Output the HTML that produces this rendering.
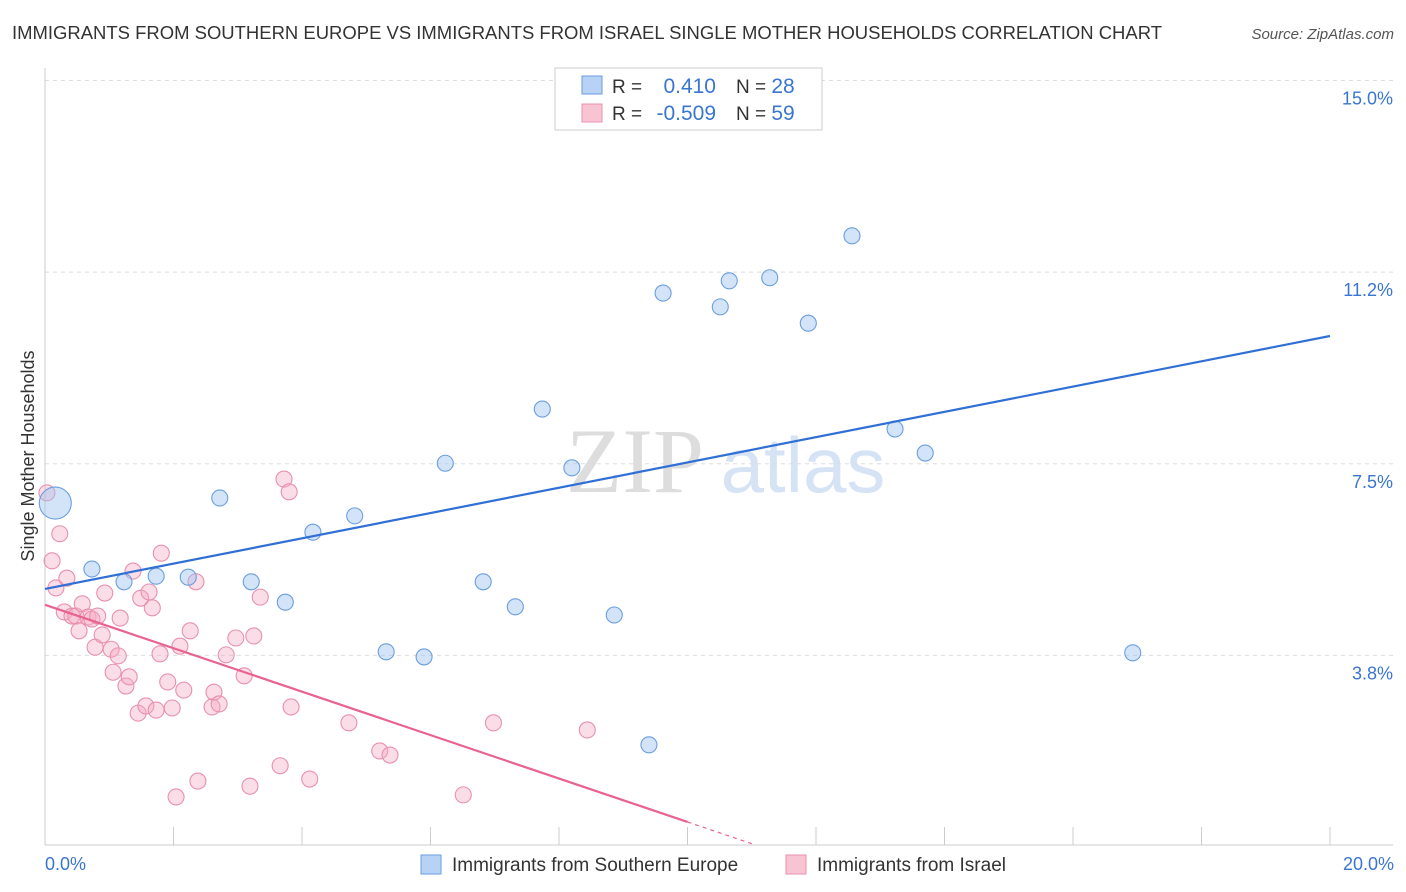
<!DOCTYPE html>
<html><head><meta charset="utf-8">
<style>
body{margin:0;background:#fff;font-family:"Liberation Sans",sans-serif;}
svg{display:block}
</style></head>
<body>
<svg id="chart" width="1406" height="892" xmlns="http://www.w3.org/2000/svg">
<text x="12" y="39" font-size="18" fill="#333" textLength="1150" lengthAdjust="spacingAndGlyphs">IMMIGRANTS FROM SOUTHERN EUROPE VS IMMIGRANTS FROM ISRAEL SINGLE MOTHER HOUSEHOLDS CORRELATION CHART</text>
<text x="1394" y="39" font-size="15" fill="#555" text-anchor="end" font-style="italic">Source: ZipAtlas.com</text>
<text x="635" y="492" font-size="92" fill="#ddd" font-family="Liberation Serif" text-anchor="middle">ZIP</text>
<text x="803" y="492" font-size="78" fill="#d5e3f5" text-anchor="middle">atlas</text>
<g id="grid"></g>
<g id="axes"></g>
<g id="pts"></g>
<g id="lines"></g>
<text transform="translate(34,456) rotate(-90)" font-size="18" fill="#333" text-anchor="middle">Single Mother Households</text>
<text x="45" y="870" font-size="18" fill="#3a75d0">0.0%</text>
<text x="1394" y="870" font-size="18" fill="#3a75d0" text-anchor="end">20.0%</text>
<g>
<rect x="555" y="68" width="267" height="62" fill="#fff" stroke="#ccc"/>
<rect x="582" y="76" width="20" height="18" fill="#b8d2f5" stroke="#6a9ee0"/>
<rect x="582" y="104" width="20" height="18" fill="#f8c4d4" stroke="#e890ae"/>
<text x="612" y="93" font-size="19" fill="#333">R =</text>
<text x="716" y="93" font-size="21" fill="#3a75d0" text-anchor="end">0.410</text>
<text x="736" y="93" font-size="19" fill="#333">N = <tspan fill="#3a75d0" font-size="21">28</tspan></text>
<text x="612" y="120" font-size="19" fill="#333">R =</text>
<text x="716" y="120" font-size="21" fill="#3a75d0" text-anchor="end">-0.509</text>
<text x="736" y="120" font-size="19" fill="#333">N = <tspan fill="#3a75d0" font-size="21">59</tspan></text>
</g>
<g>
<rect x="421" y="855" width="20" height="19" fill="#b8d2f5" stroke="#6a9ee0"/>
<text x="452" y="871" font-size="19" fill="#333">Immigrants from Southern Europe</text>
<rect x="786" y="855" width="20" height="19" fill="#f8c4d4" stroke="#e890ae"/>
<text x="817" y="871" font-size="19" fill="#333">Immigrants from Israel</text>
</g>
</svg>
<script>
const yTicks=[3.75,7.5,11.25,15];
const yTickLabels=["3.8%","7.5%","11.2%","15.0%"];
const xTicks=[0,2,4,6,8,10,12,14,16,18,20];
const blueX=[0.16,0.73,1.23,1.73,2.23,2.72,3.21,3.74,4.17,4.82,5.31,5.90,6.23,6.82,7.32,7.74,8.20,8.86,9.40,9.62,10.51,10.65,11.28,11.88,12.56,13.23,13.70,16.93];
const blueY=[6.73,5.44,5.19,5.30,5.28,6.83,5.19,4.79,6.16,6.48,3.82,3.72,7.51,5.19,4.70,8.57,7.42,4.54,2.00,10.84,10.57,11.08,11.14,10.25,11.96,8.18,7.71,3.80];
const pinkX=[0.03,0.11,0.23,0.17,0.34,0.30,0.42,0.48,0.58,0.53,0.67,0.73,0.82,0.78,0.89,0.93,1.03,1.06,1.14,1.17,1.26,1.31,1.37,1.45,1.49,1.57,1.62,1.67,1.73,1.81,1.79,1.91,1.98,2.04,2.10,2.16,2.26,2.35,2.38,2.60,2.63,2.71,2.82,2.97,3.10,3.19,3.25,3.35,3.66,3.72,3.80,3.83,4.12,4.73,5.21,5.37,6.51,6.98,8.44];
const pinkY=[6.93,5.60,6.13,5.07,5.26,4.60,4.52,4.52,4.76,4.23,4.50,4.46,4.52,3.91,4.15,4.97,3.87,3.42,3.74,4.48,3.15,3.33,5.40,2.62,4.87,2.76,4.99,4.68,2.68,5.75,3.78,3.23,2.72,0.98,3.93,3.07,4.23,5.19,1.29,2.74,3.03,2.80,3.76,4.09,3.35,1.19,4.13,4.89,1.59,7.20,6.95,2.74,1.33,2.43,1.88,1.80,1.02,2.43,2.29];
const blueLine=[[0,5.05],[20,10.0]];
const pinkLine=[[0,4.74],[10,0.49]];
const pinkDashEnd=11;
const NS="http://www.w3.org/2000/svg";
const xs=v=>45+v*64.25, ys=v=>847-v*51.1;
function mk(t,a,p){const e=document.createElementNS(NS,t);for(const k in a)e.setAttribute(k,a[k]);p.appendChild(e);return e;}
const grid=document.getElementById('grid'),axes=document.getElementById('axes'),pts=document.getElementById('pts'),lines=document.getElementById('lines');
yTicks.forEach((v,i)=>{
 const l=mk('line',{x1:45,x2:1393,y1:ys(v),y2:ys(v),stroke:'#ddd','stroke-dasharray':'4,4'},grid);
 
 
 const t=mk('text',{x:1393,y:ys(v)+24,'font-size':18,fill:'#3a75d0','text-anchor':'end'},grid);
 t.textContent=yTickLabels[i];
 
 
});
const ya=mk('line',{x1:45,x2:45,y1:68,y2:845,stroke:'#ccc'},axes);


const xa=mk('line',{x1:45,x2:1393,y1:845,y2:845,stroke:'#ccc'},axes);


xTicks.forEach(v=>{
 const l=mk('line',{x1:xs(v),x2:xs(v),y1:827,y2:845,stroke:'#ccc'},axes);
 
 
});
pinkX.forEach((x,i)=>{
 const c=mk('circle',{cx:xs(x),cy:ys(pinkY[i]),r:8,fill:'rgba(245,170,195,0.4)',stroke:'#e890ae','stroke-width':1.1},pts);
 
 
});
blueX.forEach((x,i)=>{
 const c=mk('circle',{cx:xs(x),cy:ys(blueY[i]),r:i===0?16:8,fill:'rgba(160,195,240,0.45)',stroke:'#6a9ee0','stroke-width':1.1},pts);
 
 
});
const bl=mk('line',{x1:xs(blueLine[0][0]),y1:ys(blueLine[0][1]),x2:xs(blueLine[1][0]),y2:ys(blueLine[1][1]),stroke:'#2f6fd6','stroke-width':2.2},lines);


const pl=mk('line',{x1:xs(pinkLine[0][0]),y1:ys(pinkLine[0][1]),x2:xs(pinkLine[1][0]),y2:ys(pinkLine[1][1]),stroke:'#e8638f','stroke-width':2.2},lines);


const slope=(pinkLine[1][1]-pinkLine[0][1])/(pinkLine[1][0]-pinkLine[0][0]);
const pd=mk('line',{x1:xs(pinkLine[1][0]),y1:ys(pinkLine[1][1]),x2:xs(pinkDashEnd),y2:ys(pinkLine[1][1]+slope*(pinkDashEnd-pinkLine[1][0])),stroke:'#e8638f','stroke-width':1.2,'stroke-dasharray':'4,4'},lines);


</script>
</body></html>
